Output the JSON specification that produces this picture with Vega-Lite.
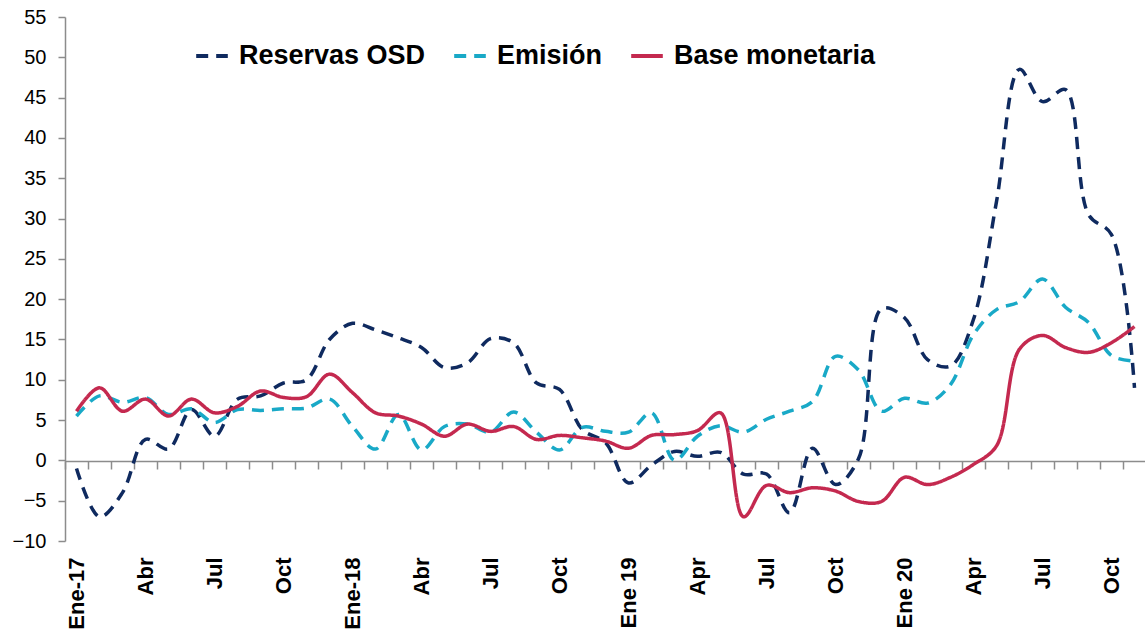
{
  "$schema": "https://vega.github.io/schema/vega-lite/v6.json",
  "width": 1081,
  "height": 524,
  "autosize": {"type": "none"},
  "padding": {"left": 65, "top": 17, "right": 0, "bottom": 96},
  "config": {
    "view": {"stroke": null},
    "font": "Liberation Sans",
    "legend": {
      "orient": "none",
      "legendX": 129,
      "legendY": 21,
      "direction": "horizontal",
      "title": null,
      "labelFontSize": 27,
      "labelFontWeight": "bold",
      "labelColor": "#000000",
      "labelFont": "Liberation Sans",
      "symbolType": "stroke",
      "symbolSize": 1000,
      "symbolStrokeWidth": 4,
      "labelOffset": 9,
      "columnPadding": 20,
      "labelLimit": 400
    }
  },
  "data": {
    "values": [
      {"mes": "2017-01", "reservas": -1.0, "emision": 5.5, "base": 6.1},
      {"mes": "2017-02", "reservas": -7.0, "emision": 8.0, "base": 9.0},
      {"mes": "2017-03", "reservas": -4.0, "emision": 7.2, "base": 6.1},
      {"mes": "2017-04", "reservas": 2.6, "emision": 7.8, "base": 7.6},
      {"mes": "2017-05", "reservas": 1.4, "emision": 5.7, "base": 5.5},
      {"mes": "2017-06", "reservas": 6.3, "emision": 6.4, "base": 7.6},
      {"mes": "2017-07", "reservas": 3.0, "emision": 4.7, "base": 5.9},
      {"mes": "2017-08", "reservas": 7.6, "emision": 6.3, "base": 6.7},
      {"mes": "2017-09", "reservas": 8.0, "emision": 6.2, "base": 8.6},
      {"mes": "2017-10", "reservas": 9.6, "emision": 6.4, "base": 7.8},
      {"mes": "2017-11", "reservas": 10.0, "emision": 6.5, "base": 7.9},
      {"mes": "2017-12", "reservas": 15.0, "emision": 7.6, "base": 10.7},
      {"mes": "2018-01", "reservas": 17.0, "emision": 4.2, "base": 8.4},
      {"mes": "2018-02", "reservas": 16.2, "emision": 1.4, "base": 5.9},
      {"mes": "2018-03", "reservas": 15.2, "emision": 5.7, "base": 5.5},
      {"mes": "2018-04", "reservas": 14.0, "emision": 1.3, "base": 4.5},
      {"mes": "2018-05", "reservas": 11.5, "emision": 4.2, "base": 3.0},
      {"mes": "2018-06", "reservas": 12.1, "emision": 4.5, "base": 4.5},
      {"mes": "2018-07", "reservas": 15.1, "emision": 3.5, "base": 3.6},
      {"mes": "2018-08", "reservas": 14.6, "emision": 6.0, "base": 4.2},
      {"mes": "2018-09", "reservas": 9.6, "emision": 3.5, "base": 2.6},
      {"mes": "2018-10", "reservas": 8.8, "emision": 1.3, "base": 3.1},
      {"mes": "2018-11", "reservas": 3.8, "emision": 4.1, "base": 2.8},
      {"mes": "2018-12", "reservas": 2.2, "emision": 3.6, "base": 2.4},
      {"mes": "2019-01", "reservas": -2.8, "emision": 3.5, "base": 1.5},
      {"mes": "2019-02", "reservas": -0.6, "emision": 5.9, "base": 3.1},
      {"mes": "2019-03", "reservas": 1.1, "emision": 0.0, "base": 3.2},
      {"mes": "2019-04", "reservas": 0.5, "emision": 3.0, "base": 3.7},
      {"mes": "2019-05", "reservas": 1.0, "emision": 4.3, "base": 5.9},
      {"mes": "2019-06", "reservas": -1.7, "emision": 3.5, "base": -7.0},
      {"mes": "2019-07", "reservas": -1.7, "emision": 5.1, "base": -3.1},
      {"mes": "2019-08", "reservas": -6.5, "emision": 6.1, "base": -4.0},
      {"mes": "2019-09", "reservas": 1.5, "emision": 7.3, "base": -3.4},
      {"mes": "2019-10", "reservas": -3.0, "emision": 12.9, "base": -3.8},
      {"mes": "2019-11", "reservas": 0.2, "emision": 11.2, "base": -5.1},
      {"mes": "2019-12", "reservas": 18.8, "emision": 6.1, "base": -5.1},
      {"mes": "2020-01", "reservas": 17.7, "emision": 7.7, "base": -2.1},
      {"mes": "2020-02", "reservas": 12.5, "emision": 7.1, "base": -3.0},
      {"mes": "2020-03", "reservas": 11.7, "emision": 9.4, "base": -2.1},
      {"mes": "2020-04", "reservas": 17.5, "emision": 15.6, "base": -0.5},
      {"mes": "2020-05", "reservas": 32.1, "emision": 18.7, "base": 1.8},
      {"mes": "2020-06", "reservas": 48.5, "emision": 19.7, "base": 13.8},
      {"mes": "2020-07", "reservas": 44.5, "emision": 22.5, "base": 15.5},
      {"mes": "2020-08", "reservas": 46.0, "emision": 19.0, "base": 14.0},
      {"mes": "2020-09", "reservas": 30.5, "emision": 17.1, "base": 13.4},
      {"mes": "2020-10", "reservas": 28.0, "emision": 13.0, "base": 14.6},
      {"mes": "2020-11", "reservas": 9.0, "emision": 12.3, "base": 16.6}
    ]
  },
  "transform": [{"fold": ["reservas", "emision", "base"], "as": ["serie", "valor"]}],
  "resolve": {"axis": {"x": "independent"}},
  "layer": [
    {
      "mark": {"type": "rule", "opacity": 0},
      "encoding": {
        "x": {
          "field": "mes",
          "type": "ordinal",
          "scale": {"type": "band", "paddingInner": 0, "paddingOuter": 0},
          "axis": {
            "orient": "bottom",
            "offset": -80,
            "title": null,
            "labels": false,
            "domain": true,
            "domainColor": "#8c8c8c",
            "domainWidth": 1.5,
            "ticks": true,
            "tickBand": "extent",
            "tickSize": 8,
            "tickColor": "#8c8c8c",
            "tickWidth": 1.5,
            "grid": false
          }
        },
        "y": {"datum": 0, "type": "quantitative"}
      }
    },
    {
      "mark": {"type": "line", "interpolate": "catmull-rom", "strokeWidth": 3.5, "strokeCap": "butt"},
      "encoding": {
        "x": {
          "field": "mes",
          "type": "ordinal",
          "bandPosition": 0.5,
          "scale": {"type": "band", "paddingInner": 0, "paddingOuter": 0},
          "axis": {
            "orient": "bottom",
            "title": null,
            "domain": false,
            "ticks": false,
            "grid": false,
            "values": ["2017-01", "2017-04", "2017-07", "2017-10", "2018-01", "2018-04", "2018-07", "2018-10", "2019-01", "2019-04", "2019-07", "2019-10", "2020-01", "2020-04", "2020-07", "2020-10"],
            "labelExpr": "substring(datum.value,5,7)=='01' ? (substring(datum.value,0,4)=='2017' ? 'Ene-17' : substring(datum.value,0,4)=='2018' ? 'Ene-18' : substring(datum.value,0,4)=='2019' ? 'Ene 19' : 'Ene 20') : substring(datum.value,5,7)=='04' ? (substring(datum.value,0,4)<'2019' ? 'Abr' : 'Apr') : substring(datum.value,5,7)=='07' ? 'Jul' : 'Oct'",
            "labelAngle": -90,
            "labelAlign": "right",
            "labelBaseline": "middle",
            "labelPadding": 16,
            "labelFontSize": 22,
            "labelFontWeight": "bold",
            "labelColor": "#000000",
            "labelOverlap": false
          }
        },
        "y": {
          "field": "valor",
          "type": "quantitative",
          "scale": {"domain": [-10, 55], "nice": false, "zero": false},
          "axis": {
            "title": null,
            "values": [-10, -5, 0, 5, 10, 15, 20, 25, 30, 35, 40, 45, 50, 55],
            "grid": false,
            "domainColor": "#8c8c8c",
            "domainWidth": 1.5,
            "tickColor": "#8c8c8c",
            "tickWidth": 1.5,
            "tickSize": 7,
            "labelFontSize": 20,
            "labelColor": "#000000",
            "labelPadding": 12
          }
        },
        "color": {
          "field": "serie",
          "type": "nominal",
          "scale": {"domain": ["reservas", "emision", "base"], "range": ["#0f2a5f", "#19a9c7", "#c4294f"]},
          "legend": {"labelExpr": "datum.value=='reservas' ? 'Reservas OSD' : datum.value=='emision' ? 'Emisión' : 'Base monetaria'"}
        },
        "strokeDash": {
          "field": "serie",
          "type": "nominal",
          "scale": {"domain": ["reservas", "emision", "base"], "range": [[12, 8], [12, 8], [1, 0]]},
          "legend": {"labelExpr": "datum.value=='reservas' ? 'Reservas OSD' : datum.value=='emision' ? 'Emisión' : 'Base monetaria'"}
        }
      }
    }
  ]
}
